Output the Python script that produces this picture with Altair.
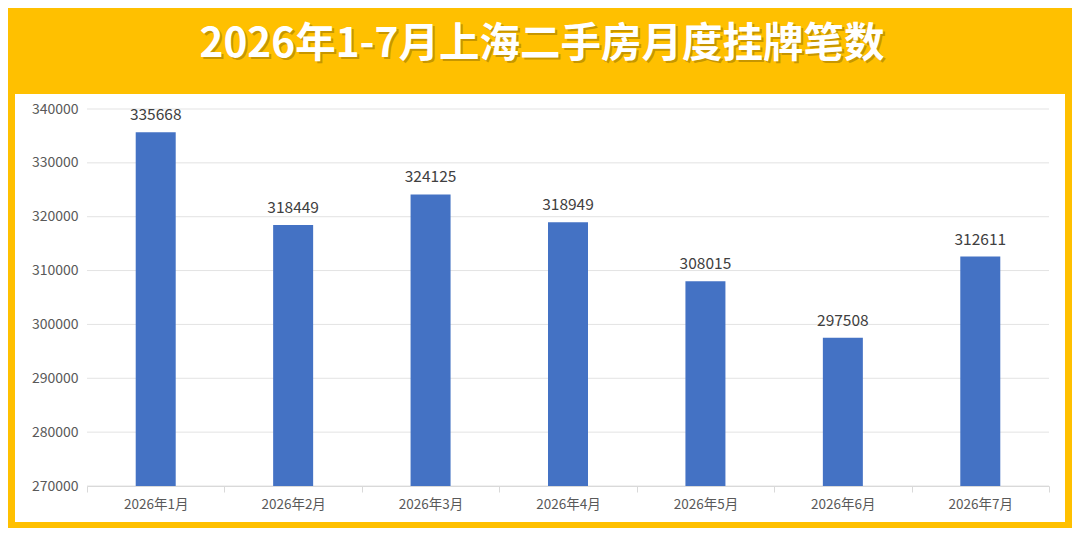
import altair as alt
import pandas as pd

months = ["2026年1月", "2026年2月", "2026年3月", "2026年4月", "2026年5月", "2026年6月", "2026年7月"]
listings = [335668, 318449, 324125, 318949, 308015, 297508, 312611]
y_ticks = [270000, 280000, 290000, 300000, 310000, 320000, 330000, 340000]
title_text = "2026年1-7月上海二手房月度挂牌笔数"

df = pd.DataFrame({"month": months, "value": listings})
gdf = pd.DataFrame({"tick": y_ticks})
FONT = "Noto Sans CJK SC"

W, H = 962, 377
yscale = alt.Scale(domain=[270000, 340000], zero=False, nice=False)

panel = alt.Chart(pd.DataFrame({"a": [0]})).mark_rect(color="white").encode(
    x=alt.value(-72), x2=alt.value(978), y=alt.value(-15), y2=alt.value(413)
)

grid = alt.Chart(gdf).mark_rule(color="#e3e3e3", strokeWidth=1).encode(
    y=alt.Y("tick:Q", scale=yscale)
)

base = alt.Chart(df)

bars = base.mark_bar(size=40, color="#4472C4", clip=True).encode(
    x=alt.X("month:N", sort=months, title=None,
            scale=alt.Scale(paddingInner=0, paddingOuter=0),
            axis=alt.Axis(labelAngle=0, tickBand="extent", tickSize=6, tickColor="#d9d9d9",
                          domainColor="#d9d9d9", labelFont=FONT, labelFontSize=13.5,
                          labelColor="#595959", labelPadding=5, grid=False, zindex=1)),
    y=alt.Y("value:Q", title=None, scale=yscale,
            axis=alt.Axis(values=y_ticks, format="d", domain=False, ticks=False, grid=False,
                          labelFont=FONT, labelFontSize=14,
                          labelColor="#595959", labelPadding=9, zindex=1)),
)

labels = base.mark_text(dy=-9, baseline="bottom", font=FONT, fontSize=15.5, color="#404040").encode(
    x=alt.X("month:N", sort=months),
    y="value:Q",
    text=alt.Text("value:Q", format="d"),
)

TX = 455
tdf = pd.DataFrame({"t": [title_text]})
title_shadow = alt.Chart(tdf).mark_text(font=FONT, fontSize=40.5, fontWeight="bold",
                                        color="#9a7400", opacity=0.55, baseline="middle").encode(
    x=alt.value(TX + 2), y=alt.value(-62), text="t:N"
)
title = alt.Chart(tdf).mark_text(font=FONT, fontSize=40.5, fontWeight="bold",
                                 color="white", baseline="middle").encode(
    x=alt.value(TX), y=alt.value(-64), text="t:N"
)

chart = alt.layer(panel, grid, bars, labels, title_shadow, title).properties(
    width=W, height=H,
    autosize=alt.AutoSizeParams(type="none"),
    padding={"left": 79, "top": 101, "right": 23, "bottom": 42},
    background="#FFC000",
).configure_view(stroke=None)

chart.save("out.html", embed_options={"renderer": "svg", "actions": False})
